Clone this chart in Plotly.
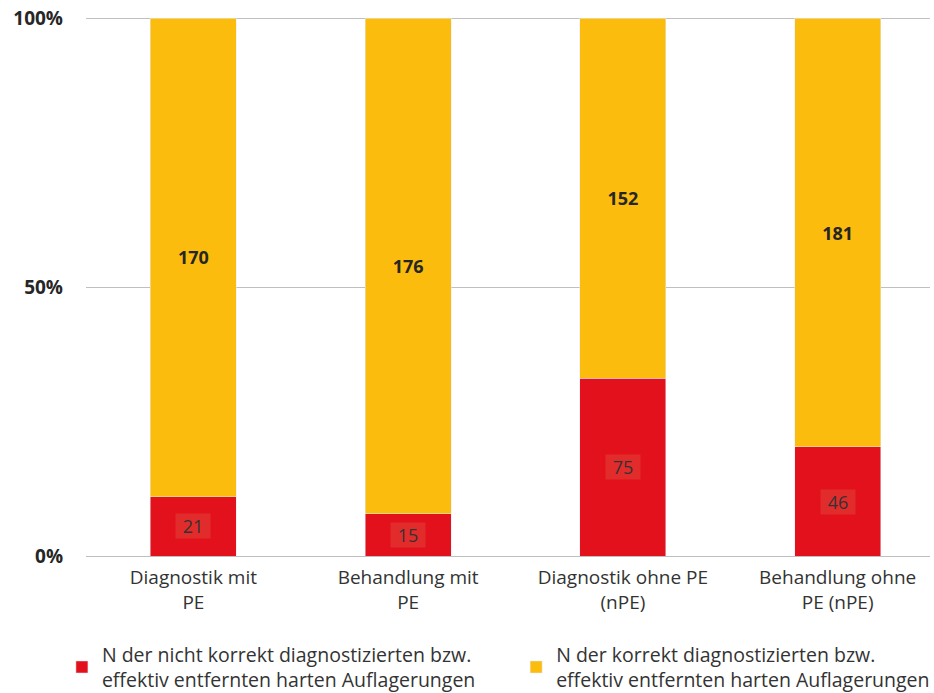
import plotly.graph_objects as go

categories = ["Diagnostik mit<br>PE", "Behandlung mit<br>PE", "Diagnostik ohne PE<br>(nPE)", "Behandlung ohne<br>PE (nPE)"]
red_values = [21, 15, 75, 46]
yellow_values = [170, 176, 152, 181]
red_name = "N der nicht korrekt diagnostizierten bzw.<br>effektiv entfernten harten Auflagerungen"
yellow_name = "N der korrekt diagnostizierten bzw.<br>effektiv entfernten harten Auflagerungen"
y_ticks = [0, 50, 100]
y_ticklabels = ["0%", "50%", "100%"]

RED = "#E2111B"
YELLOW = "#FBBC0E"
FONT = "Open Sans, sans-serif"

fig = go.Figure()
fig.add_trace(go.Bar(
    x=categories, y=red_values, name=red_name, marker_color=RED,
    width=0.4, hoverinfo="skip", legend="legend",
))
fig.add_trace(go.Bar(
    x=categories, y=yellow_values, name=yellow_name, marker_color=YELLOW,
    width=0.4, text=[str(v) for v in yellow_values], textposition="inside",
    insidetextanchor="middle",
    textfont=dict(family=FONT, size=18, color="#262626", weight="bold"),
    hoverinfo="skip", legend="legend2",
))

# Red segment labels with a box (positions from data)
for c, r, yv in zip(categories, red_values, yellow_values):
    pct = r / (r + yv) * 100
    fig.add_annotation(
        x=c, y=pct / 2, text=str(r), showarrow=False,
        font=dict(family=FONT, size=18, color="#333333"),
        bgcolor="#E22C2C", width=34, height=24, borderpad=0,
    )

legend_common = dict(
    orientation="h", xref="container", yref="container",
    y=0.0835, xanchor="left", yanchor="top",
    font=dict(family=FONT, size=19.5, color="#333333"),
)

fig.update_layout(
    barmode="stack", barnorm="percent",
    width=934, height=693,
    margin=dict(l=86, r=4, t=17, b=137, autoexpand=False),
    paper_bgcolor="white", plot_bgcolor="white",
    font=dict(family=FONT, size=19, color="#333333"),
    showlegend=True,
    legend=dict(x=0.0663, **legend_common),
    legend2=dict(x=0.5526, **legend_common),
    xaxis=dict(range=[-0.5, 3.43], showgrid=False, showline=False, ticks="",
               ticklabelstandoff=8,
               tickfont=dict(family=FONT, size=19, color="#333333")),
    yaxis=dict(range=[0, 100.2], tickvals=y_ticks, ticktext=y_ticklabels,
               showgrid=True, gridcolor="#BFBFBF", gridwidth=1.3,
               zeroline=True, zerolinecolor="#BFBFBF", zerolinewidth=1.3,
               showline=False, ticks="", ticklabelstandoff=22,
               tickfont=dict(family=FONT, size=19, color="#262626", weight="bold")),
)

fig.write_html("out.html", config={"displayModeBar": False},
               post_script="document.body.style.margin='0';")
